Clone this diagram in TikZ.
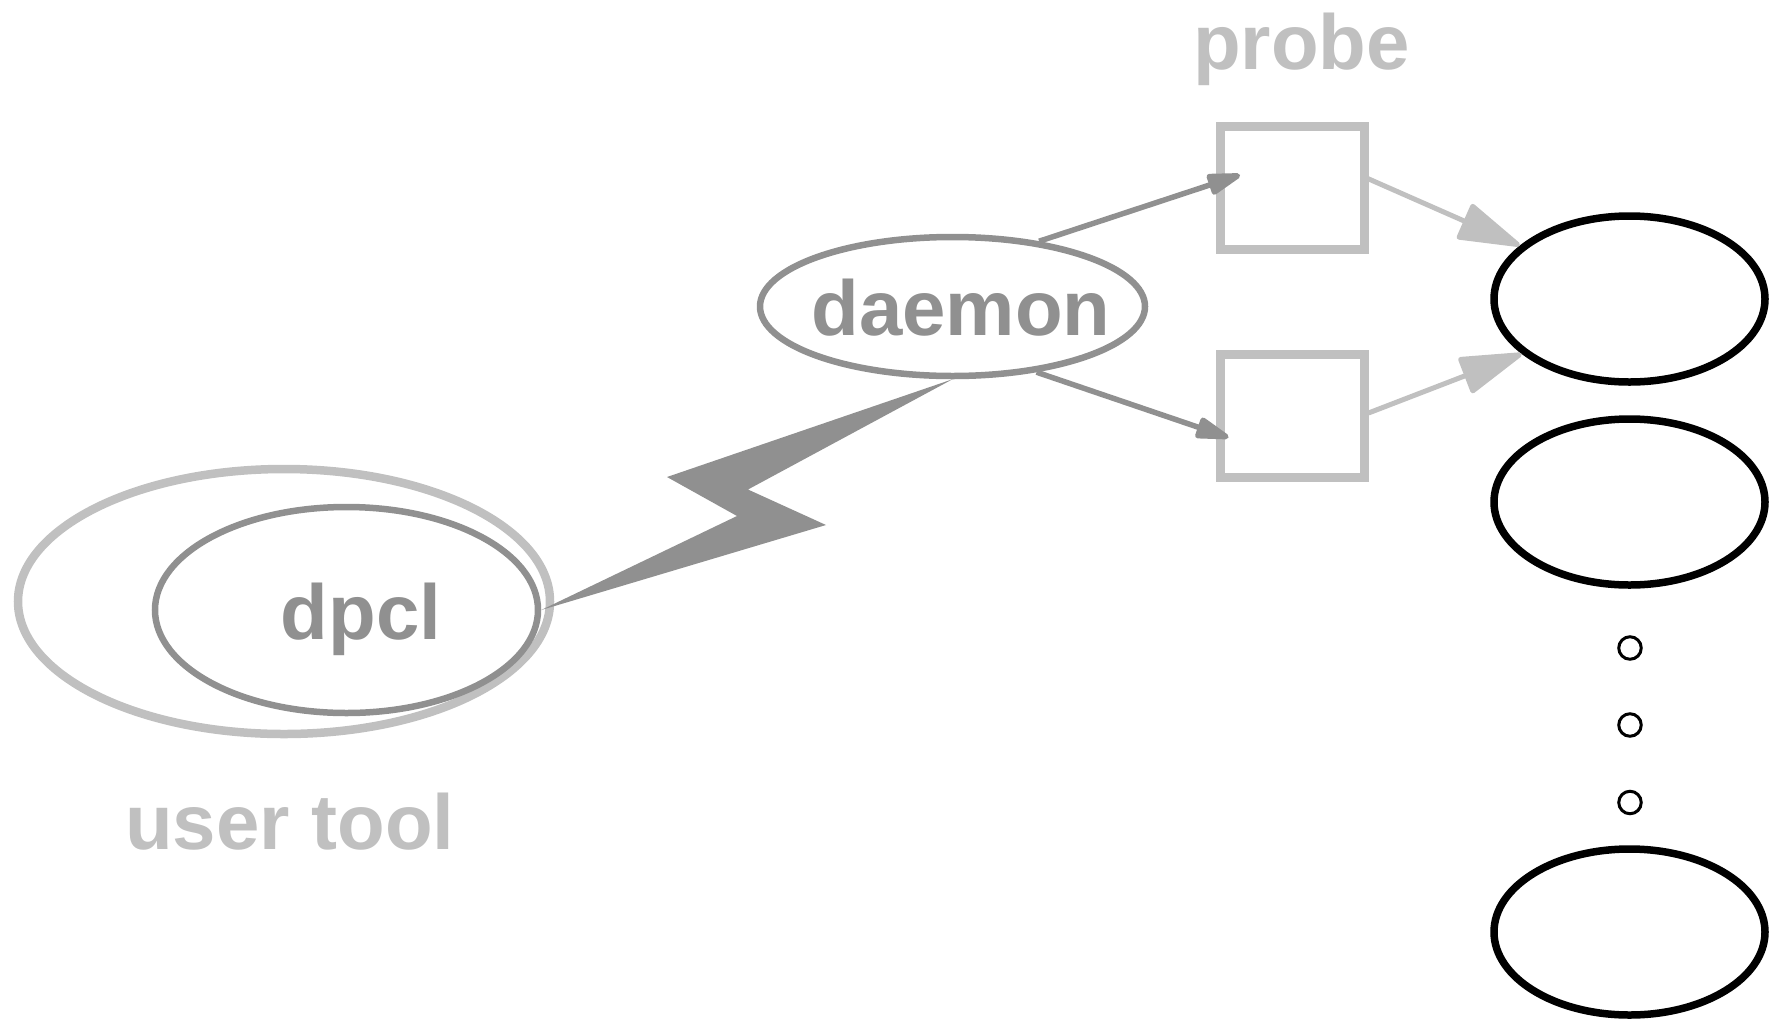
\documentclass[tikz,border=0pt]{standalone}
\usepackage{fontspec}
\setmainfont{Liberation Sans}
\usetikzlibrary{shapes.geometric,arrows.meta,calc}
\definecolor{dkgray}{RGB}{144,144,144}
\definecolor{ltgray}{RGB}{192,192,192}
\begin{document}
\begin{tikzpicture}[x=0.5pt,y=-0.5pt,
  lbl/.style={font=\fontsize{39}{47}\selectfont\bfseries, inner sep=0pt, anchor=base},
  oval/.style={ellipse, draw, inner sep=0pt},
  probebox/.style={rectangle, draw=ltgray, line width=4.5pt, minimum width=72pt, minimum height=61.5pt, inner sep=0pt},
  bigoval/.style={oval, draw=black, line width=3.75pt, minimum width=135.5pt, minimum height=83pt},
  dot/.style={circle, draw=black, line width=1.5pt, minimum size=11.25pt, inner sep=0pt},
  darkarrow/.style={draw=dkgray, line width=2.75pt, -{Triangle[length=20pt,width=11pt,round]}},
  lightarrow/.style={draw=ltgray, line width=2.5pt, -{Triangle[length=34pt,width=19.5pt,round]}}
]
\useasboundingbox (0,0) rectangle (1773,1018);

% user tool cluster
\node[oval, draw=ltgray, line width=4.25pt, minimum width=266pt, minimum height=132.5pt] (tool) at (284,601.5) {};
\node[oval, draw=dkgray, line width=3.25pt, minimum width=191.5pt, minimum height=103pt] (dp) at (346.5,610) {};
\node[lbl, text=dkgray] (dptxt) at (361,639) {dpcl};
\node[lbl, text=ltgray] (tooltxt) at (290,849.7) {user tool};

% daemon
\node[oval, draw=dkgray, line width=3.25pt, minimum width=192.5pt, minimum height=69.5pt] (daem) at (952.5,306.5) {};
\node[lbl, text=dkgray] (daemtxt) at (961,335) {daemon};

% probe
\node[lbl, text=ltgray] (probetxt) at (1301.5,69) {probe};
\node[probebox] (box1) at (1292,188) {};
\node[probebox] (box2) at (1292,416) {};

% processes
\node[bigoval] (ell1) at (1629.5,299) {};
\node[bigoval] (ell2) at (1629.5,502) {};
\node[dot] (d1) at (1630,648) {};
\node[dot] (d2) at (1630,725) {};
\node[dot] (d3) at (1630,802.5) {};
\node[bigoval] (ell3) at (1629.5,932) {};

% lightning bolt
\fill[dkgray, line join=round] (daem.south) -- (667,477) -- (737,516) -- (dp.east) -- (826,525) -- (748,489.5) -- cycle;

% arrows
\draw[darkarrow] (daem.37) -- ($(box1.center)+(-52,-13)$);
\draw[darkarrow] (daem.-38) -- ($(box2.center)+(-63.5,21.5)$);
\draw[lightarrow] ($(box1.east)+(-2,-10)$) -- (ell1.154);
\draw[lightarrow] ($(box2.east)+(0,-3)$) -- (ell1.207);
\end{tikzpicture}
\end{document}
